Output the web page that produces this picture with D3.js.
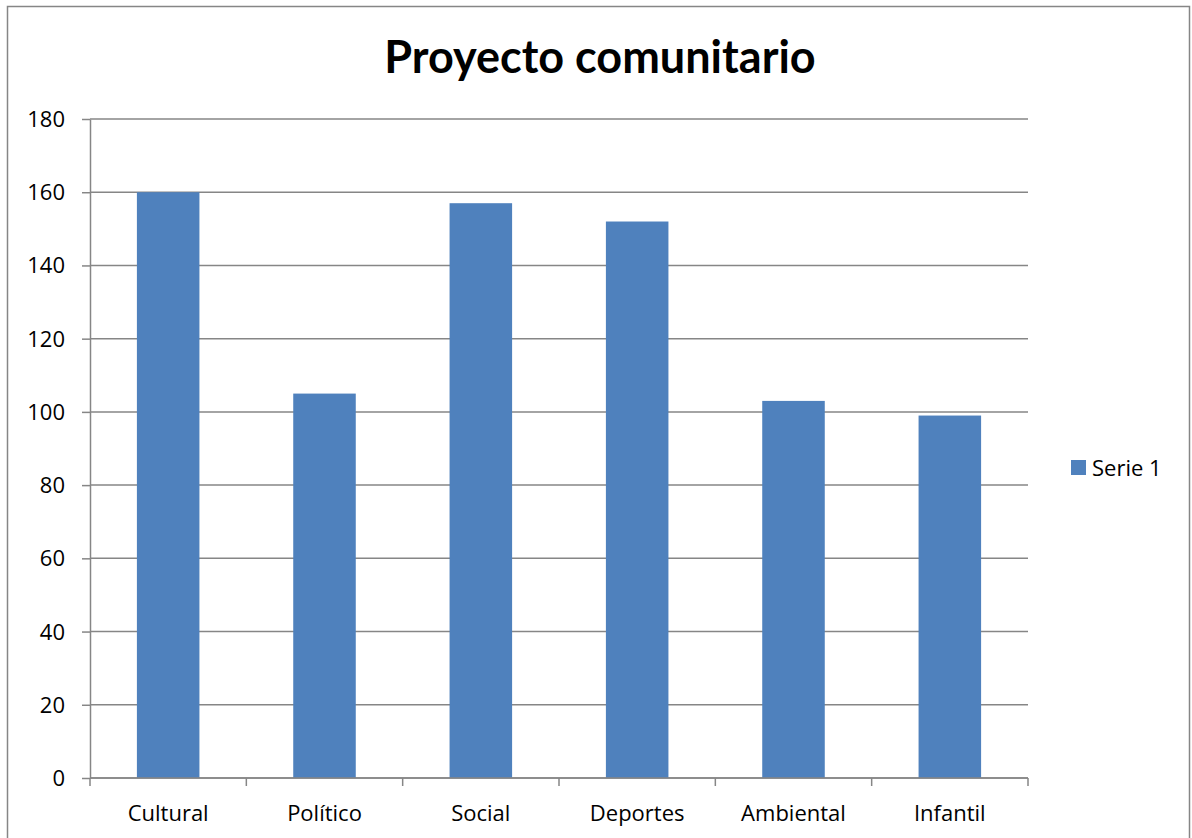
<!DOCTYPE html>
<meta charset="utf-8">
<title>Proyecto comunitario</title>
<style>
  body { margin: 0; background: white; }
  svg { font-family: 'Open Sans', sans-serif; font-variant-ligatures: none; }
</style>
<body>
<div id="chart"></div>
<script src="https://d3js.org/d3.v7.min.js"></script>
<script>

// data
const categories = ["Cultural", "Político", "Social", "Deportes", "Ambiental", "Infantil"];
const serie1 = [160, 105, 157, 152, 103, 99];
const yTicks = [0, 20, 40, 60, 80, 100, 120, 140, 160, 180];
const seriesName = "Serie 1";
const chartTitle = "Proyecto comunitario";

const W = 1192, H = 838;
const margin = {top: 119, right: 164, bottom: 60, left: 90};
const width = W - margin.left - margin.right,
      height = H - margin.top - margin.bottom;

const svg = d3.select("#chart").append("svg")
    .attr("width", W)
    .attr("height", H);

// outer frame of the chart
svg.append("rect")
    .attr("x", 7.5).attr("y", 6.5)
    .attr("width", W - 10).attr("height", H)
    .attr("fill", "white")
    .attr("stroke", "#868686")
    .attr("stroke-width", 1.5);

svg.append("text")
    .attr("x", 600)
    .attr("y", 73)
    .attr("text-anchor", "middle")
    .style("font-family", "Lato")
    .style("font-size", "45px")
    .style("font-weight", "bold")
    .text(chartTitle);

const g = svg.append("g")
    .attr("transform", "translate(" + margin.left + "," + margin.top + ")");

const x = d3.scaleBand()
    .domain(categories)
    .range([0, width])
    .paddingInner(0.6)
    .paddingOuter(0.3);

const y = d3.scaleLinear()
    .domain([0, 180])
    .range([height, 0]);

// horizontal gridlines
g.append("g")
  .selectAll("line")
  .data(yTicks)
  .join("line")
    .attr("x1", 0).attr("x2", width)
    .attr("y1", d => y(d)).attr("y2", d => y(d))
    .attr("stroke", "#868686")
    .attr("stroke-width", 1.5);

// bars
g.append("g")
  .selectAll("rect")
  .data(serie1)
  .join("rect")
    .attr("x", (d, i) => x(categories[i]))
    .attr("y", d => y(d))
    .attr("width", x.bandwidth())
    .attr("height", d => height - y(d))
    .attr("fill", "#4f81bd");

// y axis
const yAxis = g.append("g")
    .call(d3.axisLeft(y).tickValues(yTicks).tickSize(8).tickSizeOuter(0));
yAxis.select(".domain").attr("stroke", "#868686").attr("stroke-width", 1.5);
yAxis.selectAll(".tick line").attr("stroke", "#868686").attr("stroke-width", 1.5);
yAxis.selectAll(".tick text")
    .attr("x", -25)
    .attr("dy", "0.34em")
    .style("font-size", "22px")
    .style("font-family", "'Open Sans'")
    .attr("fill", "#000");

// x axis with ticks between categories
const step = width / categories.length;
const xAxis = g.append("g")
    .attr("transform", "translate(0," + height + ")");
xAxis.append("line")
    .attr("x1", 0).attr("x2", width)
    .attr("stroke", "#868686").attr("stroke-width", 1.5);
xAxis.selectAll("line.sep")
  .data(d3.range(categories.length + 1))
  .join("line")
    .attr("class", "sep")
    .attr("x1", i => i * step).attr("x2", i => i * step)
    .attr("y1", 0).attr("y2", 8)
    .attr("stroke", "#868686").attr("stroke-width", 1.5);
xAxis.selectAll("text")
  .data(categories)
  .join("text")
    .attr("x", d => x(d) + x.bandwidth() / 2)
    .attr("y", 43)
    .attr("text-anchor", "middle")
    .style("font-size", "22px")
    .text(d => d);

// legend
const legend = svg.append("g")
    .attr("transform", "translate(1071,460)");
legend.append("rect")
    .attr("width", 15).attr("height", 15)
    .attr("fill", "#4f81bd");
legend.append("text")
    .attr("x", 21).attr("y", 16)
    .style("font-size", "22px")
    .text(seriesName);

</script>
</body>
